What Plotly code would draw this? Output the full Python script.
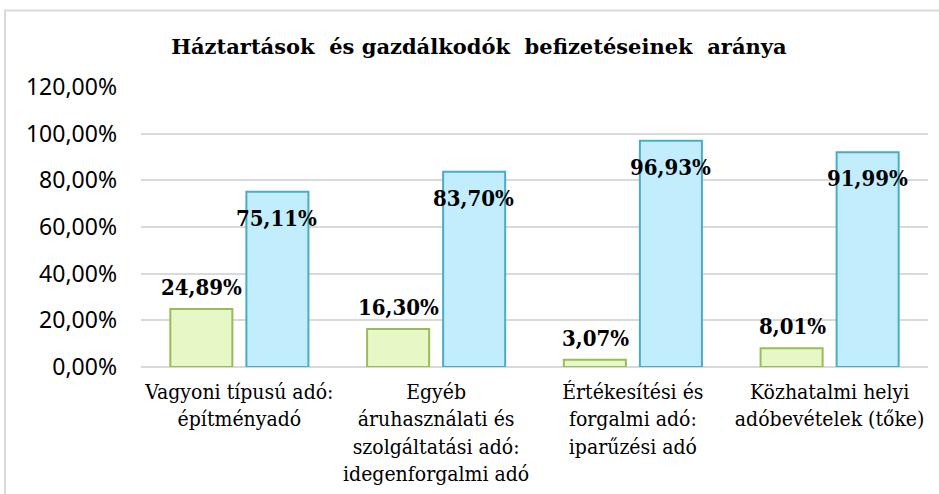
import plotly.graph_objects as go

categories = [
    "Vagyoni típusú adó:<br>építményadó",
    "Egyéb<br>áruhasználati és<br>szolgáltatási adó:<br>idegenforgalmi adó",
    "Értékesítési és<br>forgalmi adó:<br>iparűzési adó",
    "Közhatalmi helyi<br>adóbevételek (tőke)",
]
haztartasok = [24.89, 16.30, 3.07, 8.01]
gazdalkodok = [75.11, 83.70, 96.93, 91.99]
tick_vals = [0, 20, 40, 60, 80, 100, 120]
tick_text = ["0,00%", "20,00%", "40,00%", "60,00%", "80,00%", "100,00%", "120,00%"]

def fmt(v):
    return f"{v:.2f}".replace(".", ",") + "%"

fig = go.Figure()
fig.add_trace(go.Bar(
    x=categories, y=haztartasok, name="Háztartások",
    marker=dict(color="#e6f8c6", line=dict(color="#9bbb59", width=2)),
))
fig.add_trace(go.Bar(
    x=categories, y=gazdalkodok, name="Gazdálkodók",
    marker=dict(color="#c2edfc", line=dict(color="#4bacc6", width=2)),
))

label_font = dict(family="DejaVu Serif Condensed, DejaVu Serif", size=22, color="#000000")
for c, v in zip(categories, haztartasok):
    fig.add_annotation(x=c, y=v, text="<b>" + fmt(v) + "</b>", showarrow=False,
                       xshift=-37.5, yshift=22, yanchor="middle", font=label_font)
for c, v in zip(categories, gazdalkodok):
    fig.add_annotation(x=c, y=v, text="<b>" + fmt(v) + "</b>", showarrow=False,
                       xshift=37.5, yshift=-26, yanchor="middle", font=label_font)

fig.add_shape(type="rect", xref="paper", yref="paper",
              x0=-0.1728, x1=1.3, y0=-1.0, y1=1.273,
              line=dict(color="#d9d9d9", width=2), fillcolor="rgba(0,0,0,0)", layer="below")

fig.update_layout(
    width=939, height=494,
    margin=dict(l=141, r=11, t=87, b=127),
    paper_bgcolor="#ffffff", plot_bgcolor="#ffffff",
    showlegend=False,
    barmode="group", bargap=0.227, bargroupgap=0.184,
    title=dict(text="<b>Háztartások  és gazdálkodók  befizetéseinek  aránya</b>",
               x=0.51, xanchor="center", y=1 - 47 / 494, yanchor="middle",
               font=dict(family="DejaVu Serif", size=21, color="#000000")),
    xaxis=dict(showgrid=False, showline=False, ticks="", automargin=False, tickangle=0,
               ticklabelstandoff=10,
               tickfont=dict(family="DejaVu Serif Condensed, Liberation Serif", size=21, color="#000000")),
    yaxis=dict(range=[0, 120], tickvals=tick_vals, ticktext=tick_text, automargin=False,
               showgrid=True, gridcolor="#d9d9d9", gridwidth=1.5,
               zeroline=True, zerolinecolor="#d9d9d9", zerolinewidth=2,
               showline=False, ticks="", ticklabelstandoff=23,
               tickfont=dict(family="Noto Sans", size=23, color="#000000")),
)

fig.write_html("out.html", config={"displayModeBar": False},
               post_script="document.body.style.margin='0';")
